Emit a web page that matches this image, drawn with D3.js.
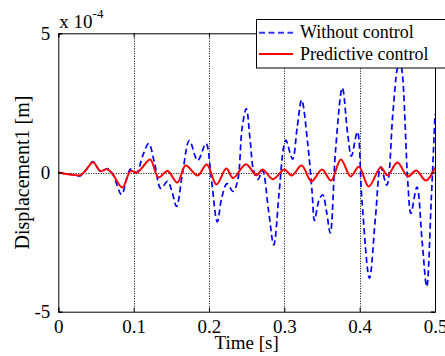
<!DOCTYPE html>
<html>
<head>
<meta charset="utf-8">
<script src="https://cdn.jsdelivr.net/npm/d3@7"></script>
<style>
    body { margin: 0; background: #fff; }
    svg { display: block; font-family: "Liberation Serif", "Times New Roman", serif; }
</style>
</head>
<body>
<div id="chart"></div>
<script>
// time [s] and displacement [x 1e-4 m]
const timeWithout = [0, 0.010, 0.020, 0.029, 0.037, 0.046, 0.056, 0.065, 0.072, 0.084, 0.091, 0.096, 0.104, 0.112, 0.120,
    0.128, 0.136, 0.145, 0.151, 0.157, 0.165, 0.174, 0.185, 0.196, 0.203, 0.211, 0.217, 0.224, 0.232, 0.238, 0.244, 0.2495,
    0.255, 0.259, 0.265, 0.271, 0.279, 0.286, 0.293, 0.299, 0.302, 0.311, 0.317, 0.323, 0.331, 0.337, 0.340, 0.346, 0.351,
    0.356, 0.361, 0.368, 0.377, 0.384, 0.389, 0.397, 0.403, 0.413, 0.421, 0.428, 0.436, 0.444, 0.450, 0.453, 0.456, 0.464,
    0.468, 0.476, 0.483, 0.489, 0.495, 0.500];
const valuesWithout = [0, -0.05, -0.08, -0.12, 0.10, 0.39, 0.04, 0.14, -0.05, -0.79, -0.20, 0.12, 0.0, 0.60, 1.04,
    0.30, -0.57, -0.32, -0.70, -1.22, 0.0, 1.15, 0.43, 1.04, -0.20, -1.77, -0.90, -0.40, -0.68, -0.30, 1.60, 2.29,
    1.05, 0.10, -0.25, 0.07, -1.35, -2.60, -0.75, 0.90, 1.16, 0.48, 1.60, 2.60, 1.06, -0.75, -1.73, -1.00, -0.80,
    -1.40, -2.17, 0.80, 3.04, 1.41, 0.59, 1.46, -0.99, -3.80, -1.60, 0.20, -0.45, 2.10, 3.75, 4.00, 3.70, -0.40,
    -1.47, -0.52, -2.50, -4.10, -1.00, 2.10];

const timePredictive = [0, 0.010, 0.020, 0.029, 0.037, 0.046, 0.056, 0.065, 0.072, 0.085, 0.096, 0.104, 0.112, 0.122,
    0.133, 0.145, 0.158, 0.169, 0.185, 0.197, 0.210, 0.223, 0.232, 0.249, 0.263, 0.271, 0.285, 0.300, 0.310, 0.323,
    0.336, 0.350, 0.362, 0.375, 0.388, 0.399, 0.412, 0.428, 0.437, 0.450, 0.464, 0.475, 0.488, 0.500];
const valuesPredictive = [0, -0.05, -0.08, -0.10, 0.10, 0.37, 0.05, 0.12, -0.05, -0.54, 0.06, -0.01, 0.20, 0.47,
    -0.18, 0.05, -0.36, 0.25, -0.11, 0.29, -0.43, 0.14, -0.20, 0.30, -0.10, 0.11, -0.24, 0.11, -0.11, 0.25,
    -0.32, 0.11, -0.29, 0.47, -0.14, 0.21, -0.50, 0.18, -0.10, 0.36, -0.14, 0.07, -0.29, 0.18];

const xTicks = [0, 0.1, 0.2, 0.3, 0.4, 0.5];
const xTickLabels = ["0", "0.1", "0.2", "0.3", "0.4", "0.5"];
const yTicks = [-5, 0, 5];
const yTickLabels = ["-5", "0", "5"];
const legendLabels = ["Without control", "Predictive control"];

const width = 445, height = 356;
const margin = { top: 33.3, right: 10, bottom: 44.3, left: 58.3 };

let svg = d3.select("#chart").append("svg")
    .attr("width", width)
    .attr("height", height);

let x = d3.scaleLinear().domain([0, 0.5]).range([margin.left, width - margin.right]);
let y = d3.scaleLinear().domain([-5, 5]).range([height - margin.bottom, margin.top]);

// grid: vertical lines at x ticks, horizontal at zero
let grid = svg.append("g")
    .attr("stroke", "#000")
    .attr("stroke-width", 1)
    .attr("stroke-dasharray", "1,1.5");
grid.selectAll("line.vg")
    .data(xTicks.slice(1, -1))
    .enter().append("line")
    .attr("class", "vg")
    .attr("x1", d => Math.round(x(d)) + 0.5).attr("x2", d => Math.round(x(d)) + 0.5)
    .attr("y1", y(-5)).attr("y2", y(5));
grid.append("line")
    .attr("x1", x(0)).attr("x2", x(0.5))
    .attr("y1", Math.round(y(0)) + 0.5).attr("y2", Math.round(y(0)) + 0.5);

let line = d3.line()
    .x(d => x(d[0]))
    .y(d => y(d[1]))
    .curve(d3.curveCatmullRom.alpha(0.5));

svg.append("path")
    .datum(d3.zip(timeWithout, valuesWithout))
    .attr("fill", "none")
    .attr("stroke", "#0000ff")
    .attr("stroke-width", 1.7)
    .attr("stroke-dasharray", "6,3.5")
    .attr("d", line);

svg.append("path")
    .datum(d3.zip(timePredictive, valuesPredictive))
    .attr("fill", "none")
    .attr("stroke", "#ff0000")
    .attr("stroke-width", 2)
    .attr("d", line);

// axes box with inward ticks, matlab style
let xAxisBottom = d3.axisBottom(x).tickValues(xTicks).tickSize(-4)
    .tickFormat((d, i) => xTickLabels[i]).tickPadding(8);
let xAxisTop = d3.axisTop(x).tickValues(xTicks).tickSize(-4).tickFormat("");
let yAxisLeft = d3.axisLeft(y).tickValues(yTicks).tickSize(-4)
    .tickFormat((d, i) => yTickLabels[i]).tickPadding(8);
let yAxisRight = d3.axisRight(y).tickValues(yTicks).tickSize(-4).tickFormat("");

function styleAxis(g) {
    g.select(".domain").attr("stroke", "#000").attr("stroke-width", 1);
    g.selectAll(".tick line").attr("stroke", "#000");
    g.selectAll(".tick text").attr("fill", "#000").attr("font-size", 19)
        .attr("font-family", "Liberation Serif");
}

svg.append("g").attr("transform", `translate(0,${y(-5)})`).call(xAxisBottom).call(styleAxis);
svg.append("g").attr("transform", `translate(0,${y(5)})`).call(xAxisTop).call(styleAxis);
svg.append("g").attr("transform", `translate(${x(0)},0)`).call(yAxisLeft).call(styleAxis);
svg.append("g").attr("transform", `translate(${x(0.5)},0)`).call(yAxisRight).call(styleAxis);

// exponent label
let expo = svg.append("text")
    .attr("x", x(0) + 1)
    .attr("y", 28)
    .attr("font-size", 19);
expo.append("tspan").text("x 10");
expo.append("tspan").attr("font-size", 13).attr("dy", -10).text("-4");

svg.append("text")
    .attr("x", (x(0) + x(0.5)) / 2)
    .attr("y", 349)
    .attr("text-anchor", "middle")
    .attr("font-size", 19)
    .text("Time [s]");

svg.append("text")
    .attr("transform", `translate(29,${y(0)}) rotate(-90)`)
    .attr("text-anchor", "middle")
    .attr("font-size", 20)
    .text("Displacement1 [m]");

// legend
let legend = svg.append("g");
legend.append("rect")
    .attr("x", 256.5).attr("y", 19.5)
    .attr("width", 200).attr("height", 48.5)
    .attr("fill", "#fff")
    .attr("stroke", "#000")
    .attr("stroke-width", 1);

let legendRows = [
    { label: legendLabels[0], color: "#3333ff", dash: "6,3.5", y: 32.7 },
    { label: legendLabels[1], color: "#ff0000", dash: null, y: 54 }
];
legendRows.forEach(r => {
    legend.append("line")
        .attr("x1", 259).attr("x2", 293)
        .attr("y1", r.y).attr("y2", r.y)
        .attr("stroke", r.color)
        .attr("stroke-width", 2)
        .attr("stroke-dasharray", r.dash);
    legend.append("text")
        .attr("x", 300)
        .attr("y", r.y + 5.6)
        .attr("font-size", 18)
        .text(r.label);
});
</script>
</body>
</html>
